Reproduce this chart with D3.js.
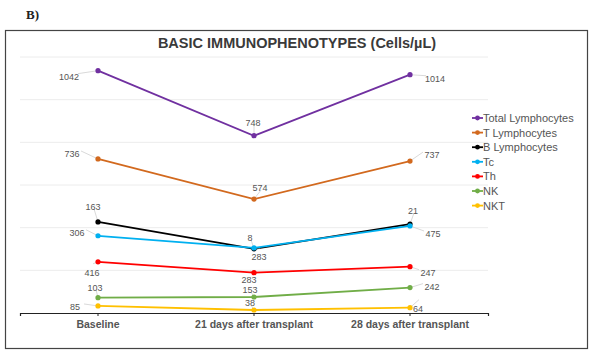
<!DOCTYPE html>
<html><head><meta charset="utf-8">
<script src="https://cdn.jsdelivr.net/npm/d3@7"></script>
<style>body{margin:0;background:#fff}svg{display:block}</style>
</head><body>
<svg id="c" width="594" height="356"></svg>
<script>
// ---- data ----
const categories = ["Baseline", "21 days after transplant", "28 days after transplant"];
const seriesNames = ["Total Lymphocytes", "T Lymphocytes", "B Lymphocytes", "Tc", "Th", "NK", "NKT"];
const seriesColors = ["#7030A0", "#D2691E", "#000000", "#00B0F0", "#FF0000", "#70AD47", "#FFC000"];
// plotted positions (implicit axis 0-1200)
const totalVals = [1136, 831, 1117];
const tVals = [722, 534, 712];
const bVals = [427, 301, 417];
const tcVals = [362, 305, 408];
const thVals = [240, 189, 217];
const nkVals = [72, 75, 119];
const nktVals = [33, 14, 25];
// data labels printed on the chart
const totalLabels = ["1042", "748", "1014"];
const tLabels = ["736", "574", "737"];
const bLabels = ["163", "8", "21"];
const tcLabels = ["306", "283", "475"];
const thLabels = ["416", "283", "247"];
const nkLabels = ["103", "153", "242"];
const nktLabels = ["85", "38", "64"];
const gridTicks = [200, 400, 600, 800, 1000, 1200];

const values = [totalVals, tVals, bVals, tcVals, thVals, nkVals, nktVals];
const labels = [totalLabels, tLabels, bLabels, tcLabels, thLabels, nkLabels, nktLabels];
// label offsets [dx, dy] relative to point, per series/category
const offs = [
  [[-29, 6], [-1, -13], [25, 4]],
  [[-26, -5], [6, -11], [22, -6]],
  [[-5, -15], [-4, -11], [3, -13]],
  [[-21, -3], [5, 9], [23, 8]],
  [[-6, 11], [-5, 7], [18, 6]],
  [[-3, -10], [-4, -7], [22, -1]],
  [[-23, 1], [-4, -7], [8, 1]]
];

const svg = d3.select("#c");
const x = d3.scaleBand().domain(categories).range([20, 488]);
const y = d3.scaleLinear().domain([0, 1200]).range([313, 57]);

// B) label
svg.append("text").attr("x", 26).attr("y", 19).attr("font-family", "Liberation Serif, serif")
  .attr("font-size", 13).attr("font-weight", "bold").attr("fill", "#222").text("B)");
// border
svg.append("rect").attr("x", 5.5).attr("y", 30.5).attr("width", 582).attr("height", 318)
  .attr("fill", "none").attr("stroke", "#444").attr("stroke-width", 1.2);
// title
svg.append("text").attr("x", 297).attr("y", 48).attr("text-anchor", "middle")
  .attr("font-family", "Liberation Sans, Arial, sans-serif").attr("font-size", 14.5)
  .attr("font-weight", "bold").attr("fill", "#3a3a3a").text("BASIC IMMUNOPHENOTYPES (Cells/\u00B5L)");

// gridlines
svg.append("g").selectAll("line").data(gridTicks).join("line")
  .attr("x1", 20).attr("x2", 488).attr("y1", d => y(d)).attr("y2", d => y(d))
  .attr("stroke", "#ececec").attr("stroke-width", 1);

// x axis
const xa = svg.append("g").attr("transform", "translate(0,313)")
  .call(d3.axisBottom(x).tickSize(3).tickSizeOuter(3));
xa.select(".domain").attr("stroke", "#222").attr("stroke-width", 1.2);
xa.selectAll(".tick line").attr("stroke", "#222");
xa.selectAll(".tick text").attr("font-family", "Liberation Sans, Arial, sans-serif")
  .attr("font-size", 10.5).attr("font-weight", "bold").attr("fill", "#555").attr("dy", "0.9em");

const cx = c => x(c) + x.bandwidth() / 2;
const line = d3.line().x((d, i) => cx(categories[i])).y(d => y(d));

values.forEach((vals, s) => {
  const g = svg.append("g");
  vals.forEach((v, i) => {
    const px = cx(categories[i]), py = y(v);
    const [dx, dy] = offs[s][i];
    const tx = px + dx, ty = py + dy;
    let lx = tx, ly = ty;
    if (dx < -12) { lx = tx + 9; ly = ty - 3; }
    else if (dx > 12) { lx = tx - 9; ly = ty - 3; }
    else { lx = tx + 1; ly = dy < 0 ? ty + 2 : ty - 9; }
    g.append("line").attr("x1", px).attr("y1", py).attr("x2", lx).attr("y2", ly)
      .attr("stroke", "#cfcfcf").attr("stroke-width", 0.8);
    g.append("text").attr("x", tx).attr("y", ty).attr("text-anchor", "middle")
      .attr("dominant-baseline", "central")
      .attr("font-family", "Liberation Sans, Arial, sans-serif").attr("font-size", 9)
      .attr("fill", "#555").text(labels[s][i]);
  });
  g.append("path").datum(vals).attr("d", line).attr("fill", "none")
    .attr("stroke", seriesColors[s]).attr("stroke-width", 1.8);
  g.selectAll("circle").data(vals).join("circle")
    .attr("cx", (d, i) => cx(categories[i])).attr("cy", d => y(d)).attr("r", 2.6)
    .attr("fill", seriesColors[s]);
});

// legend
const lg = svg.append("g");
seriesNames.forEach((n, i) => {
  const ly = 118 + i * 14.6;
  lg.append("line").attr("x1", 472).attr("x2", 483).attr("y1", ly).attr("y2", ly)
    .attr("stroke", seriesColors[i]).attr("stroke-width", 1.8);
  lg.append("circle").attr("cx", 477.5).attr("cy", ly).attr("r", 2.4).attr("fill", seriesColors[i]);
  lg.append("text").attr("x", 483).attr("y", ly).attr("dominant-baseline", "central")
    .attr("font-family", "Liberation Sans, Arial, sans-serif").attr("font-size", 11)
    .attr("fill", "#555").text(n);
});
</script>
</body></html>
